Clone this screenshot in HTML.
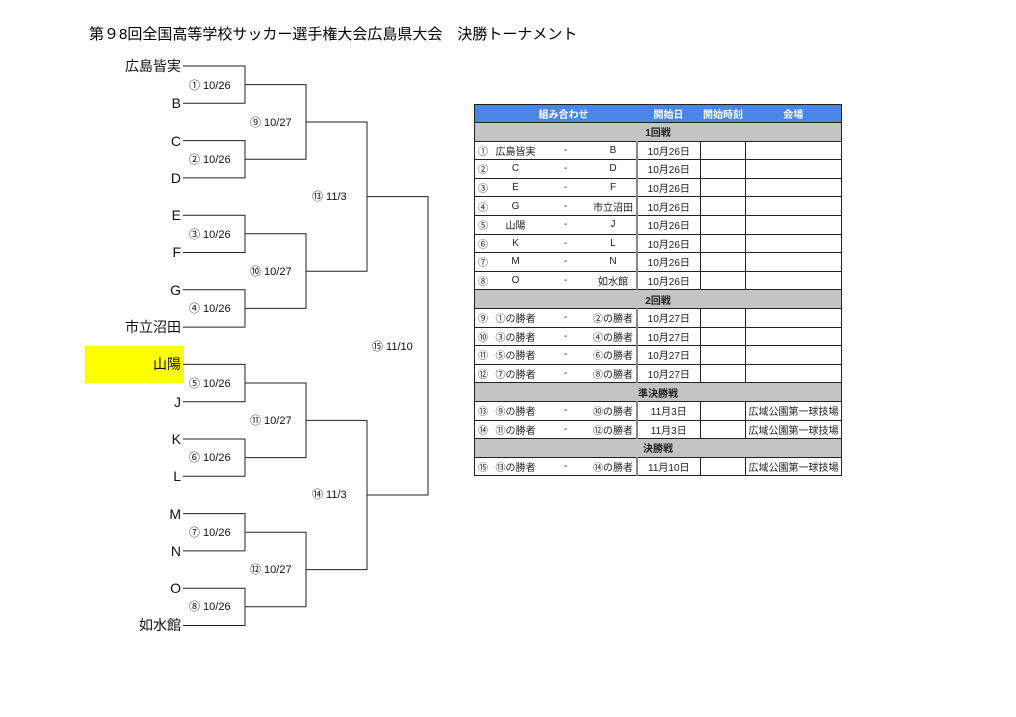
<!DOCTYPE html>
<html><head><meta charset="utf-8">
<style>
body{margin:0;background:#fff;width:1016px;height:717px;position:relative;overflow:hidden;font-family:"Liberation Sans","Noto Sans CJK JP",sans-serif;}
.title{position:absolute;left:89px;top:23px;font-size:15px;letter-spacing:0;color:#000;white-space:nowrap;}
svg{position:absolute;left:0;top:0;}
table{position:absolute;left:474px;top:104px;width:367px;border-collapse:collapse;table-layout:fixed;font-size:10px;color:#222;}
td{height:17.6px;padding:0;border-top:1px solid #222;white-space:nowrap;overflow:hidden;}
tr.h td{background:#4a86e8;color:#fff;font-weight:bold;border:none;height:17px;}
tr.s td{background:#c4c4c4;font-weight:bold;text-align:center;}
.c{text-align:center}.n{padding-left:3px}
.d{border-left:2px solid #888;}
.v{border-left:1px solid #222;}
tbody{border:1px solid #222;}
</style></head><body>
<div class="title">第９8回全国高等学校サッカー選手権大会広島県大会　決勝トーナメント</div>
<div style="position:absolute;left:85px;top:346px;width:99px;height:37px;background:#ffff00"></div>
<svg width="1016" height="717" font-family="Liberation Sans, Noto Sans CJK JP, sans-serif">
<g stroke="#222" stroke-width="1" fill="none">
<path d="M183 66H245V103.3H183M183 140.6H245V177.9H183M183 215.2H245V252.5H183M183 289.8H245V327.1H183M183 364.4H245V401.7H183M183 439H245V476.3H183M183 513.6H245V550.9H183M183 588.2H245V625.5H183"/>
<path d="M245 84.6H306V159.2H245M245 233.8H306V308.4H245M245 383H306V457.6H245M245 532.2H306V606.8H245"/>
<path d="M306 122H367V271.2H306M306 420.4H367V569.6H306"/>
<path d="M367 196.6H428V495H367"/>
</g>
<g font-size="14" text-anchor="end" fill="#111">
<text x="181" y="71">広島皆実</text><text x="181" y="108">B</text>
<text x="181" y="146">C</text><text x="181" y="183">D</text>
<text x="181" y="220">E</text><text x="181" y="257">F</text>
<text x="181" y="295">G</text><text x="181" y="332">市立沼田</text>
<text x="181" y="369">山陽</text><text x="181" y="407">J</text>
<text x="181" y="444">K</text><text x="181" y="481">L</text>
<text x="181" y="519">M</text><text x="181" y="556">N</text>
<text x="181" y="593">O</text><text x="181" y="630">如水館</text>
</g>
<g font-size="11" fill="#111">
<text x="189" y="89">① 10/26</text><text x="189" y="163">② 10/26</text>
<text x="189" y="238">③ 10/26</text><text x="189" y="312">④ 10/26</text>
<text x="189" y="387">⑤ 10/26</text><text x="189" y="461">⑥ 10/26</text>
<text x="189" y="536">⑦ 10/26</text><text x="189" y="610">⑧ 10/26</text>
<text x="250" y="126">⑨ 10/27</text><text x="250" y="275">⑩ 10/27</text>
<text x="250" y="424">⑪ 10/27</text><text x="250" y="573">⑫ 10/27</text>
<text x="312" y="200">⑬ 11/3</text><text x="312" y="498">⑭ 11/3</text>
<text x="372" y="350">⑮ 11/10</text>
</g>
</svg>
<table>
<colgroup><col style="width:16px"><col style="width:50px"><col style="width:50px"><col style="width:46px"><col style="width:64px"><col style="width:45px"><col style="width:96px"></colgroup>
<tr class="h"><td></td><td colspan="3" class="c">組み合わせ</td><td class="c">開始日</td><td class="c">開始時刻</td><td class="c">会場</td></tr>
<tr class="s"><td colspan="7">1回戦</td></tr>
<tr><td class="n">①</td><td class="c">広島皆実</td><td class="c">-</td><td class="c">B</td><td class="c d">10月26日</td><td class="v"></td><td class="v"></td></tr>
<tr><td class="n">②</td><td class="c">C</td><td class="c">-</td><td class="c">D</td><td class="c d">10月26日</td><td class="v"></td><td class="v"></td></tr>
<tr><td class="n">③</td><td class="c">E</td><td class="c">-</td><td class="c">F</td><td class="c d">10月26日</td><td class="v"></td><td class="v"></td></tr>
<tr><td class="n">④</td><td class="c">G</td><td class="c">-</td><td class="c">市立沼田</td><td class="c d">10月26日</td><td class="v"></td><td class="v"></td></tr>
<tr><td class="n">⑤</td><td class="c">山陽</td><td class="c">-</td><td class="c">J</td><td class="c d">10月26日</td><td class="v"></td><td class="v"></td></tr>
<tr><td class="n">⑥</td><td class="c">K</td><td class="c">-</td><td class="c">L</td><td class="c d">10月26日</td><td class="v"></td><td class="v"></td></tr>
<tr><td class="n">⑦</td><td class="c">M</td><td class="c">-</td><td class="c">N</td><td class="c d">10月26日</td><td class="v"></td><td class="v"></td></tr>
<tr><td class="n">⑧</td><td class="c">O</td><td class="c">-</td><td class="c">如水館</td><td class="c d">10月26日</td><td class="v"></td><td class="v"></td></tr>
<tr class="s"><td colspan="7">2回戦</td></tr>
<tr><td class="n">⑨</td><td class="c">①の勝者</td><td class="c">-</td><td class="c">②の勝者</td><td class="c d">10月27日</td><td class="v"></td><td class="v"></td></tr>
<tr><td class="n">⑩</td><td class="c">③の勝者</td><td class="c">-</td><td class="c">④の勝者</td><td class="c d">10月27日</td><td class="v"></td><td class="v"></td></tr>
<tr><td class="n">⑪</td><td class="c">⑤の勝者</td><td class="c">-</td><td class="c">⑥の勝者</td><td class="c d">10月27日</td><td class="v"></td><td class="v"></td></tr>
<tr><td class="n">⑫</td><td class="c">⑦の勝者</td><td class="c">-</td><td class="c">⑧の勝者</td><td class="c d">10月27日</td><td class="v"></td><td class="v"></td></tr>
<tr class="s"><td colspan="7">準決勝戦</td></tr>
<tr><td class="n">⑬</td><td class="c">⑨の勝者</td><td class="c">-</td><td class="c">⑩の勝者</td><td class="c d">11月3日</td><td class="v"></td><td class="v c">広域公園第一球技場</td></tr>
<tr><td class="n">⑭</td><td class="c">⑪の勝者</td><td class="c">-</td><td class="c">⑫の勝者</td><td class="c d">11月3日</td><td class="v"></td><td class="v c">広域公園第一球技場</td></tr>
<tr class="s"><td colspan="7">決勝戦</td></tr>
<tr><td class="n">⑮</td><td class="c">⑬の勝者</td><td class="c">-</td><td class="c">⑭の勝者</td><td class="c d">11月10日</td><td class="v"></td><td class="v c">広域公園第一球技場</td></tr>
</table>
</body></html>
